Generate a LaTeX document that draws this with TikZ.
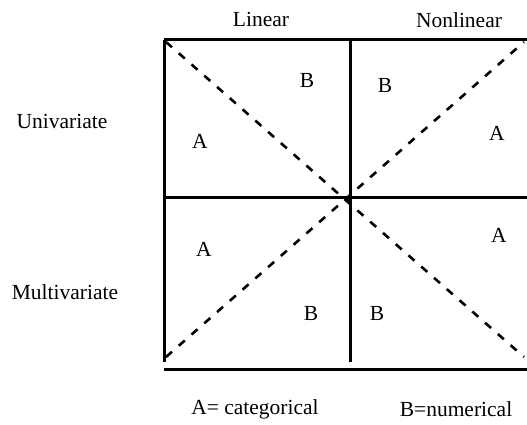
\documentclass[tikz,border=0pt]{standalone}
\usepackage{fontspec}
\setmainfont{Liberation Serif}
\begin{document}
\begin{tikzpicture}[x=1pt,y=-1pt,
  frame/.style={line width=3pt},
  diag/.style={line width=2.6pt,dash pattern=on 8pt off 9pt},
  lbl/.style={font=\fontsize{21.5}{25}\selectfont,inner sep=0pt}]
\useasboundingbox (0,0) rectangle (527,425);
% grid coordinates
\coordinate (tl) at (164,40);
\coordinate (tr) at (527,40);
\coordinate (ml) at (164,197);
\coordinate (mr) at (527,197);
\coordinate (bl) at (164,369);
\coordinate (br) at (527,369);
\coordinate (tm) at (350,40);
\coordinate (bm) at (350,362);
\coordinate (lb) at (164,362);
\coordinate (c) at (349,200);
\coordinate (d1) at (166,42);
\coordinate (d2) at (524,357);
\coordinate (d3) at (166,357);
\coordinate (d4) at (524,42);
% frame
\draw[frame] (tl) -- (tr);
\draw[frame] (ml) -- (mr);
\draw[frame] (bl) -- (br);
\draw[frame] (tl) -- (lb);
\draw[frame] (tm) -- (bm);
% diagonals
\draw[diag] (d1) -- (d2);
\draw[diag] (d3) -- (d4);
\fill (c) circle (2.4pt);
% headings
\node[lbl] (lin) at (261,19) {Linear};
\node[lbl] (nonlin) at (459,20) {Nonlinear};
\node[lbl] (uni) at (62,121) {Univariate};
\node[lbl] (multi) at (65,292) {Multivariate};
% cell letters
\node[lbl] (a1) at (200,141) {A};
\node[lbl] (b1) at (307,80) {B};
\node[lbl] (b2) at (385,85) {B};
\node[lbl] (a2) at (497,133) {A};
\node[lbl] (a3) at (204,249) {A};
\node[lbl] (a4) at (499,235) {A};
\node[lbl] (b3) at (311,313) {B};
\node[lbl] (b4) at (377,313) {B};
% legend
\node[lbl] (leg1) at (255,409) {A= categorical};
\node[lbl] (leg2) at (456,409) {B=numerical};
\end{tikzpicture}
\end{document}
